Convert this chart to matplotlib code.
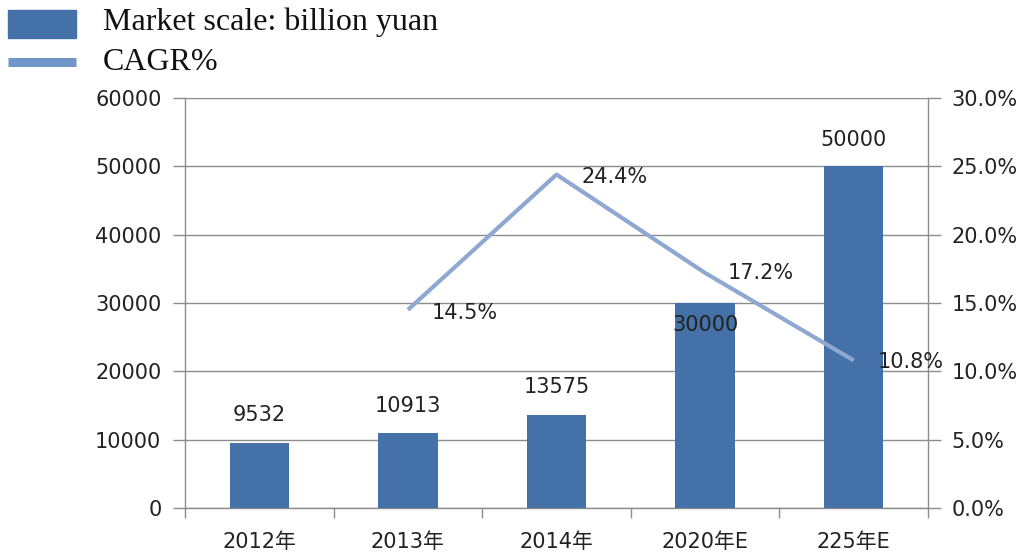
import matplotlib
matplotlib.use("Agg")
import matplotlib.pyplot as plt
from matplotlib.patches import Rectangle
from matplotlib.lines import Line2D

plt.rcParams['font.family'] = ['DejaVu Sans', 'Noto Sans CJK SC']

categories = ["2012年", "2013年", "2014年", "2020年E", "225年E"]
market_scale = [9532, 10913, 13575, 30000, 50000]
cagr_x = [1, 2, 3, 4]
cagr = [14.5, 24.4, 17.2, 10.8]
left_ticks = [0, 10000, 20000, 30000, 40000, 50000, 60000]
right_ticks = [0, 5, 10, 15, 20, 25, 30]

bar_color = "#4471A7"
line_color = "#8EA8D2"
grid_color = "#8C8C8C"
text_color = "#222222"
fs = 15

fig = plt.figure(figsize=(10.25, 5.55), dpi=100)
ax = fig.add_axes([185/1025, 1-508/555, (928-185)/1025, (508-98)/555])
x = list(range(len(categories)))
ax.bar(x, market_scale, width=0.4, color=bar_color, zorder=3)
ax.set_xlim(-0.5, len(categories)-0.5)
ax.set_ylim(0, 60000)
ax.set_yticks(left_ticks)
ax.set_yticklabels([str(t) for t in left_ticks])
ax.grid(axis='y', color=grid_color, linewidth=1.0, zorder=0)
ax.set_axisbelow(True)
ax.set_xticks(x)
ax.set_xticklabels(categories)
ax.set_xticks([i - 0.5 for i in range(len(categories)+1)], minor=True)
ax.tick_params(axis='x', which='major', length=0, pad=17, labelsize=fs, colors=text_color)
ax.tick_params(axis='x', which='minor', length=7, color=grid_color, width=1.0)
ax.tick_params(axis='y', length=9, color=grid_color, width=1.0, labelsize=fs,
               labelcolor=text_color, pad=8)
for s in ['top', 'right']:
    ax.spines[s].set_visible(False)
for s in ['left', 'bottom']:
    ax.spines[s].set_color(grid_color)
    ax.spines[s].set_linewidth(1.0)

# bar labels
bar_offsets = [(0, 20), (0, 20), (0, 20), (0, -16), (0, 19)]
for xi, v, off in zip(x, market_scale, bar_offsets):
    ax.annotate(str(v), (xi, v), xytext=off, textcoords='offset points',
                ha='center', va='center', fontsize=fs, color=text_color, zorder=5)

ax2 = ax.twinx()
ax2.set_ylim(0, 30)
ax2.set_yticks(right_ticks)
ax2.set_yticklabels([f"{t:.1f}%" for t in right_ticks])
ax2.tick_params(axis='y', length=9, color=grid_color, width=1.0, labelsize=fs,
                labelcolor=text_color, pad=8)
for s in ['top', 'left', 'bottom']:
    ax2.spines[s].set_visible(False)
ax2.spines['right'].set_color(grid_color)
ax2.spines['right'].set_linewidth(1.0)
ax2.plot(cagr_x, cagr, color=line_color, linewidth=3.0, solid_capstyle='butt', zorder=4)
line_offsets = [(17, -2), (18, -2), (16, 0), (17, -1)]
for xi, v, off in zip(cagr_x, cagr, line_offsets):
    ax2.annotate(f"{v:.1f}%", (xi, v), xytext=off, textcoords='offset points',
                 ha='left', va='center', fontsize=fs, color=text_color, zorder=5)

# legend
fig.patches.append(Rectangle((8/1025, 1-38/555), 68/1025, 28/555,
                             transform=fig.transFigure, color=bar_color))
fig.lines.append(Line2D([8/1025, 76/1025], [1-62/555, 1-62/555],
                        transform=fig.transFigure, color="#6F95C9", linewidth=6.5,
                        solid_capstyle='butt'))
fig.text(103/1025, 1-22/555, "Market scale: billion yuan", family='Liberation Serif',
         fontsize=23, va='center', ha='left', color="#111111")
fig.text(103/1025, 1-63/555, "CAGR%", family='Liberation Serif',
         fontsize=23, va='center', ha='left', color="#111111")

fig.savefig("out.png", dpi=100)
